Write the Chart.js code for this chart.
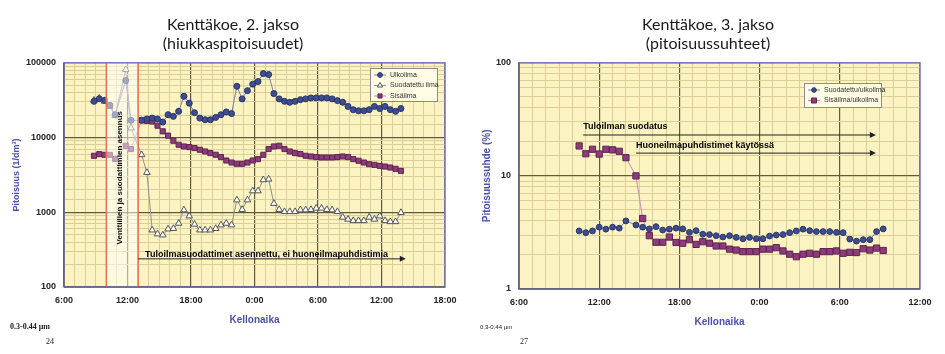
<!DOCTYPE html>
<html>
<head>
<meta charset="utf-8">
<script src="https://cdn.jsdelivr.net/npm/chart.js@4.4.1/dist/chart.umd.min.js"></script>
<style>
    body { margin: 0; background: #fff; width: 945px; height: 354px; position: relative; overflow: hidden; }
    .kaavio { position: absolute; top: 0; }
    .huom { position: absolute; color: #222; white-space: nowrap; }
</style>
</head>
<body>
<div class="kaavio" style="left:0px"><canvas id="chart1" width="466" height="354"></canvas></div>
<div class="kaavio" style="left:470px"><canvas id="chart2" width="475" height="354"></canvas></div>

<div class="huom" style="left:10px;top:322px;font:bold 8px 'Liberation Serif',serif">0.3-0.44 µm</div>
<div class="huom" style="left:46px;top:337px;font:8px 'Liberation Serif',serif">24</div>
<div class="huom" style="left:480px;top:324px;font:6px 'Liberation Sans',Arial">0.3-0.44 µm</div>
<div class="huom" style="left:520px;top:337px;font:8px 'Liberation Serif',serif">27</div>

<script>
// ---- Kenttäkoe 2. jakso: hiukkaspitoisuudet (1/dm3) ----
const ajat2 = ['8:50', '9:20', '9:50', '10:20', '10:50', '11:50', '12:20',
    '13:20', '13:50', '14:20', '14:50', '15:20', '15:50', '16:20', '16:50', '17:20', '17:50',
    '18:20', '18:50', '19:20', '19:50', '20:20', '20:50', '21:20', '21:50', '22:20', '22:50', '23:20', '23:50',
    '0:20', '0:50', '1:20', '1:50', '2:20', '2:50', '3:20', '3:50', '4:20', '4:50', '5:20', '5:50',
    '6:20', '6:50', '7:20', '7:50', '8:20', '8:50', '9:20', '9:50', '10:20', '10:50', '11:20', '11:50',
    '12:20', '12:50', '13:20', '13:50'];

const ulkoilma2 = [30500, 33000, 31500, 27000, 20200, 58000, 17000,
    17000, 17700, 18200, 17700, 16100, 20200, 19200, 22400, 35600, 28800,
    21500, 18200, 17300, 17300, 18600, 20200, 22000, 20900, 48500, 32900,
    42400, 51800, 56100, 71800, 69700, 38700, 32900, 30500, 29600, 30500,
    32100, 32900, 33900, 33900, 33900, 33900, 32900, 31200, 29600, 26100,
    23600, 22800, 22800, 23600, 26100, 24400, 26100, 23600, 22400, 24400];

const suodatettu2 = [31500, 33600, 30500, 26000, 19500, 81000, 13400,
    5880, 3400, 578, 512, 496, 597, 605, 711, 1074, 891,
    690, 578, 578, 578, 605, 676, 711, 676, 1460, 1087,
    1460, 1930, 1930, 2720, 2770, 1310, 1087, 1018, 1018, 1018,
    1074, 1074, 1087, 1133, 1133, 1087, 1074, 1018, 857, 806,
    771, 771, 771, 857, 806, 891, 771, 747, 747, 989];

const sisailma2 = [5700, 5990, 5870, 5870, 5160, 7760, 7010,
    17000, 16700, 16400, 14400, 12100, 10600, 9060, 8000, 7600, 7460,
    7230, 6860, 6510, 6190, 5880, 5470, 4930, 4630, 4450, 4450,
    4630, 4930, 5140, 5880, 7010, 7600, 7760, 7010, 6510, 6190,
    6010, 5700, 5580, 5470, 5410, 5410, 5410, 5470, 5580, 5470,
    5140, 4890, 4630, 4400, 4310, 4180, 4090, 3970, 3810, 3580];

// ---- Kenttäkoe 3. jakso: pitoisuussuhteet (%) ----
const ajat3 = ['10:30', '11:00', '11:30', '12:00', '12:30', '13:00', '13:30', '14:00',
    '14:45', '15:15', '15:45', '16:15', '16:45', '17:15', '17:45', '18:15', '18:45', '19:15',
    '19:45', '20:15', '20:45', '21:15', '21:45', '22:15', '22:45', '23:15', '23:45',
    '0:15', '0:45', '1:15', '1:45', '2:15', '2:45', '3:15', '3:45', '4:15', '4:45',
    '5:15', '5:45', '6:15', '6:45', '7:15', '7:45', '8:15', '8:45', '9:15'];

const suodUlko3 = [3.26, 3.15, 3.26, 3.52, 3.38, 3.52, 3.45, 4.0, 3.68, 3.52,
    3.40, 3.56, 3.32, 3.38, 3.45, 3.40, 3.17, 3.28, 3.05, 3.03,
    2.96, 2.88, 2.96, 2.86, 2.78, 2.86, 2.78, 2.78, 2.94, 3.00,
    3.03, 3.15, 3.26, 3.38, 3.28, 3.22, 3.22, 3.22, 3.17, 3.15,
    2.76, 2.65, 2.73, 2.73, 3.22, 3.40];

const sisUlko3 = [18.4, 15.7, 17.2, 15.6, 17.2, 17.0, 16.5, 14.5, 10.0, 4.2,
    2.96, 2.59, 2.59, 2.88, 2.58, 2.54, 2.73, 2.48, 2.62, 2.54,
    2.40, 2.40, 2.25, 2.21, 2.14, 2.14, 2.14, 2.25, 2.25, 2.32,
    2.17, 2.03, 1.93, 2.03, 2.07, 2.03, 2.14, 2.14, 2.17, 2.07,
    2.11, 2.10, 2.27, 2.21, 2.30, 2.19];

// värit
const TAUSTA = '#fcf3c2';
const VIIVA_ISO = '#625a3e';
const VIIVA_PIENI = '#dbce96';
const SININEN = '#4b50a8';

Chart.defaults.font.family = "'Liberation Sans', Arial, sans-serif";
Chart.defaults.color = '#222';

// kellonajat tunneiksi, yli puolenyön jatkuu 24:stä eteenpäin
function tunneiksi(ajat) {
    let lisa = 0, edellinen = -1;
    return ajat.map(function (a) {
        const osat = a.split(':');
        let t = Number(osat[0]) + Number(osat[1]) / 60 + lisa;
        if (t < edellinen) { lisa += 24; t += 24; }
        edellinen = t;
        return t;
    });
}

function pisteet(ajat, arvot) {
    const t = tunneiksi(ajat);
    return arvot.map((v, i) => ({ x: t[i], y: v }));
}

function onDekadi(v) {
    const l = Math.log10(v);
    return Math.abs(l - Math.round(l)) < 1e-9;
}

// apufunktiot ja pluginit -----------------------------------
const taustaPlugin = {
    id: 'tausta',
    beforeDraw(chart) {
        const a = chart.chartArea;
        chart.ctx.save();
        chart.ctx.fillStyle = TAUSTA;
        chart.ctx.fillRect(a.left, a.top, a.right - a.left, a.bottom - a.top);
        chart.ctx.restore();
    }
};

const kehysPlugin = {
    id: 'kehys',
    afterDraw(chart) {
        const a = chart.chartArea, ctx = chart.ctx;
        ctx.save();
        ctx.strokeStyle = '#7c80c4';
        ctx.lineWidth = 1.5;
        ctx.strokeRect(a.left, a.top, a.right - a.left, a.bottom - a.top);
        ctx.strokeStyle = '#555';
        ctx.lineWidth = 1;
        ctx.beginPath();
        ctx.moveTo(a.left, a.top); ctx.lineTo(a.left, a.bottom); ctx.lineTo(a.right, a.bottom);
        ctx.stroke();
        ctx.restore();
    }
};

const selitePlugin = {
    id: 'selite',
    afterDraw(chart, args, o) {
        const ctx = chart.ctx;
        ctx.save();
        ctx.fillStyle = '#fffbe4';
        ctx.strokeStyle = '#8a8a8a';
        ctx.lineWidth = 1;
        ctx.fillRect(o.x, o.y, o.w, o.h);
        ctx.strokeRect(o.x + 0.5, o.y + 0.5, o.w, o.h);
        ctx.font = o.koko + "px 'Liberation Sans', Arial";
        ctx.textBaseline = 'middle';
        chart.data.datasets.forEach(function (ds, i) {
            const y = o.y + o.eka + i * o.rivi;
            const x = o.x + 4;
            ctx.strokeStyle = ds.borderColor;
            ctx.beginPath(); ctx.moveTo(x, y); ctx.lineTo(x + 12, y); ctx.stroke();
            ctx.fillStyle = ds.pointBackgroundColor;
            ctx.strokeStyle = ds.pointBorderColor;
            Chart.helpers.drawPoint(ctx, { pointStyle: ds.pointStyle, radius: ds.pointRadius * 0.8, borderWidth: 1, rotation: 0 }, x + 6, y);
            ctx.fillStyle = '#333';
            ctx.fillText(ds.label, x + 16, y);
        });
        ctx.restore();
    }
};

function nuoli(ctx, x1, x2, y) {
    ctx.beginPath(); ctx.moveTo(x1, y); ctx.lineTo(x2 - 4, y); ctx.stroke();
    ctx.beginPath(); ctx.moveTo(x2, y); ctx.lineTo(x2 - 6, y - 3); ctx.lineTo(x2 - 6, y + 3); ctx.closePath(); ctx.fill();
}

// merkinnät 2. jakso: asennusjakso ja nuoli
const merkinnat2 = {
    id: 'merkinnat2',
    afterDatasetsDraw(chart) {
        const ctx = chart.ctx, a = chart.chartArea;
        const x = chart.scales.x, y = chart.scales.y;
        const x1 = x.getPixelForValue(10), x2 = x.getPixelForValue(13);
        ctx.save();
        ctx.fillStyle = 'rgba(255,255,255,0.5)';
        ctx.fillRect(x1, a.top, x2 - x1, a.bottom - a.top);
        ctx.strokeStyle = '#e8704c';
        ctx.lineWidth = 1.5;
        ctx.beginPath();
        ctx.moveTo(x1, a.top); ctx.lineTo(x1, a.bottom);
        ctx.moveTo(x2, a.top); ctx.lineTo(x2, a.bottom);
        ctx.stroke();

        // pystyteksti
        ctx.save();
        ctx.translate((x1 + x2) / 2 - 2, y.getPixelForValue(2900));
        ctx.rotate(-Math.PI / 2);
        ctx.font = "bold 8px 'Liberation Sans', Arial";
        ctx.fillStyle = '#111';
        ctx.textAlign = 'center';
        ctx.textBaseline = 'middle';
        ctx.fillText('Venttiilien ja suodattimien asennus', 0, 0);
        ctx.restore();

        const yn = y.getPixelForValue(238);
        ctx.strokeStyle = '#222';
        ctx.fillStyle = '#222';
        ctx.lineWidth = 1;
        nuoli(ctx, x2, x.getPixelForValue(38.3), yn);
        ctx.font = "bold 9px 'Liberation Sans', Arial";
        ctx.fillStyle = '#000';
        ctx.textBaseline = 'alphabetic';
        ctx.fillText('Tuloilmasuodattimet asennettu, ei huoneilmapuhdistimia', x2 + 7, yn - 2);
        ctx.restore();
    }
};

// merkinnät 3. jakso: nuolet
const merkinnat3 = {
    id: 'merkinnat3',
    afterDatasetsDraw(chart) {
        const ctx = chart.ctx;
        const x = chart.scales.x, y = chart.scales.y;
        ctx.save();
        ctx.strokeStyle = '#222';
        ctx.fillStyle = '#222';
        ctx.lineWidth = 1;
        const loppu = x.getPixelForValue(32.7);
        const ya = y.getPixelForValue(23), yb = y.getPixelForValue(15.9);
        const xa = x.getPixelForValue(10.8), xb = x.getPixelForValue(14.75);
        nuoli(ctx, xa, loppu, ya);
        nuoli(ctx, xb, loppu, yb);
        ctx.font = "bold 9px 'Liberation Sans', Arial";
        ctx.fillStyle = '#000';
        ctx.textBaseline = 'middle';
        ctx.fillText('Tuloilman suodatus', xa, ya - 8);
        ctx.fillText('Huoneilmapuhdistimet käytössä', xb, yb - 8);
        ctx.restore();
    }
};

function aikaAkseli(max, korkeus) {
    return {
        type: 'linear',
        min: 6,
        max: max,
        afterFit: function (s) { s.height = korkeus; },
        ticks: {
            stepSize: 1,
            autoSkip: false,
            maxRotation: 0,
            padding: 8,
            color: '#222',
            font: { size: 9, weight: 'bold' },
            callback: function (v) { return v % 6 === 0 ? (v % 24) + ':00' : ''; }
        },
        grid: {
            drawTicks: false,
            color: (c) => (c.tick && c.tick.value % 6 === 0) ? VIIVA_ISO : VIIVA_PIENI,
            lineWidth: (c) => (c.tick && c.tick.value % 6 === 0) ? 1.2 : 1
        },
        border: { display: false },
        title: {
            display: true,
            text: 'Kellonaika',
            color: SININEN,
            font: { size: 10, weight: 'bold' },
            padding: { top: 4, bottom: 4 }
        }
    };
}

// siirto = akselin otsikon siirto vasemmalle (negatiivinen padding)
function logAkseli(min, max, leveys, otsikko, koko, siirto) {
    return {
        type: 'logarithmic',
        min: min,
        max: max,
        afterFit: function (s) { s.width = leveys; },
        ticks: {
            autoSkip: false,
            padding: 8,
            color: '#222',
            font: { size: 9, weight: 'bold' },
            callback: function (v) { return onDekadi(v) ? String(v) : ''; }
        },
        grid: {
            drawTicks: false,
            color: (c) => (c.tick && onDekadi(c.tick.value)) ? VIIVA_ISO : VIIVA_PIENI,
            lineWidth: (c) => (c.tick && onDekadi(c.tick.value)) ? 1.2 : 1
        },
        border: { display: false },
        title: {
            display: true,
            text: otsikko,
            color: SININEN,
            font: { size: koko, weight: 'bold' },
            padding: { top: -siirto, bottom: 4 }
        }
    };
}

function otsikko(rivit) {
    return {
        display: true,
        text: rivit,
        color: '#1a1a1a',
        font: { family: 'Lato, sans-serif', size: 16, weight: 'normal', lineHeight: 1.15 },
        padding: { top: 16, bottom: 10 }
    };
}

new Chart(document.getElementById('chart1'), {
    type: 'line',
    data: {
        datasets: [
            {
                label: 'Ulkoilma',
                data: pisteet(ajat2, ulkoilma2),
                borderColor: '#7480b0',
                borderWidth: 1,
                pointStyle: 'circle',
                pointRadius: 3,
                pointBackgroundColor: '#3e4d8e',
                pointBorderColor: '#29336a',
                pointBorderWidth: 1
            },
            {
                label: 'Suodatettu ilma',
                data: pisteet(ajat2, suodatettu2),
                borderColor: '#8e8e8e',
                borderWidth: 1,
                pointStyle: 'triangle',
                pointRadius: 3.8,
                pointBackgroundColor: '#ffffff',
                pointBorderColor: '#555555',
                pointBorderWidth: 1
            },
            {
                label: 'Sisäilma',
                data: pisteet(ajat2, sisailma2),
                borderColor: '#c88abb',
                borderWidth: 1,
                pointStyle: 'rect',
                pointRadius: 3.6,
                pointBackgroundColor: '#8c3b7b',
                pointBorderColor: '#5e2352',
                pointBorderWidth: 1
            }
        ]
    },
    options: {
        responsive: false,
        animation: false,
        layout: { padding: { left: 21, right: 21, top: 0, bottom: 24 } },
        plugins: {
            legend: { display: false },
            tooltip: { enabled: false },
            title: otsikko(['Kenttäkoe, 2. jakso', '(hiukkaspitoisuudet)']),
            selite: { x: 370, y: 68, w: 67, h: 33, eka: 7, rivi: 10.5, koko: 7 }
        },
        scales: {
            x: aikaAkseli(42, 43),
            y: logAkseli(100, 100000, 43, 'Pitoisuus (1/dm³)', 9, 9.5)
        }
    },
    plugins: [taustaPlugin, merkinnat2, kehysPlugin, selitePlugin]
});

new Chart(document.getElementById('chart2'), {
    type: 'line',
    data: {
        datasets: [
            {
                label: 'Suodatettu/ulkoilma',
                data: pisteet(ajat3, suodUlko3),
                borderColor: '#7480b0',
                borderWidth: 1,
                pointStyle: 'circle',
                pointRadius: 2.9,
                pointBackgroundColor: '#3e4d8e',
                pointBorderColor: '#29336a',
                pointBorderWidth: 1
            },
            {
                label: 'Sisäilma/ulkoilma',
                data: pisteet(ajat3, sisUlko3),
                borderColor: '#c88abb',
                borderWidth: 1,
                pointStyle: 'rect',
                pointRadius: 4.4,
                pointBackgroundColor: '#8c3b7b',
                pointBorderColor: '#5e2352',
                pointBorderWidth: 1
            }
        ]
    },
    options: {
        responsive: false,
        animation: false,
        layout: { padding: { left: 26, right: 25, top: 0, bottom: 22 } },
        plugins: {
            legend: { display: false },
            tooltip: { enabled: false },
            title: otsikko(['Kenttäkoe, 3. jakso', '(pitoisuussuhteet)']),
            selite: { x: 334, y: 83, w: 77, h: 24, eka: 7, rivi: 10.5, koko: 7 }
        },
        scales: {
            x: aikaAkseli(36, 43),
            y: logAkseli(1, 100, 23, 'Pitoisuussuhde (%)', 10, 15)
        }
    },
    plugins: [taustaPlugin, merkinnat3, kehysPlugin, selitePlugin]
});
</script>
</body>
</html>
